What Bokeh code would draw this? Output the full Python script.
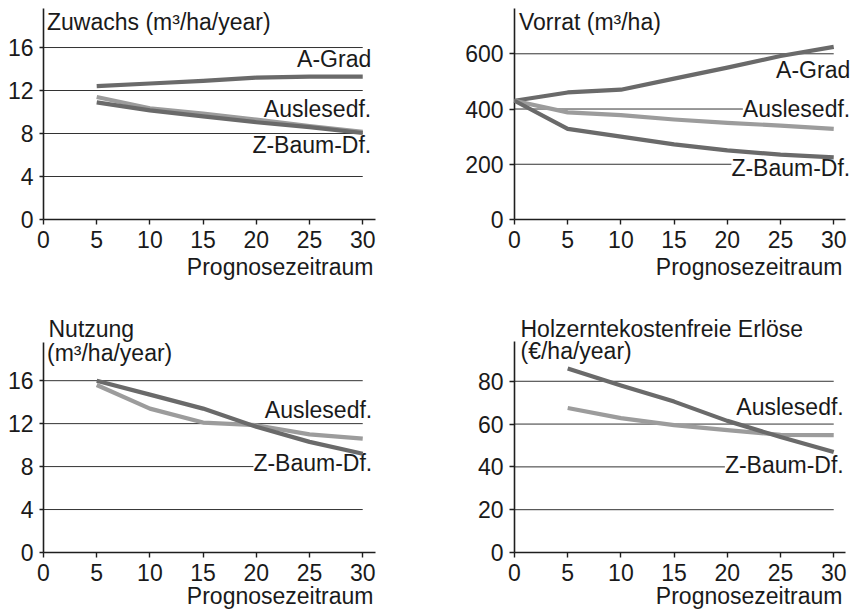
from bokeh.plotting import figure
from bokeh.models import Range1d, FixedTicker, Label, Title
from bokeh.layouts import column, row
from bokeh.embed import file_html
from bokeh.resources import INLINE

# ---------------- data ----------------
x_ticks = [0, 5, 10, 15, 20, 25, 30]
x_label = "Prognosezeitraum"

# Zuwachs (m3/ha/year)
zuw_years = [5, 10, 15, 20, 25, 30]
zuw_agrad = [12.4, 12.65, 12.9, 13.2, 13.3, 13.3]
zuw_ausl = [11.4, 10.35, 9.85, 9.3, 8.7, 8.15]
zuw_zbaum = [10.9, 10.15, 9.6, 9.05, 8.6, 8.05]
zuw_ticks = [0, 4, 8, 12, 16]

# Vorrat (m3/ha)
vor_years = [0, 5, 10, 15, 20, 25, 30]
vor_agrad = [430, 460, 470, 510, 550, 592, 625]
vor_ausl = [430, 388, 378, 362, 350, 340, 328]
vor_zbaum = [430, 328, 300, 272, 250, 235, 225]
vor_ticks = [0, 200, 400, 600]

# Nutzung (m3/ha/year)
nut_years = [5, 10, 15, 20, 25, 30]
nut_zbaum = [16.0, 14.7, 13.4, 11.7, 10.3, 9.2]
nut_ausl = [15.6, 13.4, 12.1, 11.85, 11.0, 10.6]
nut_ticks = [0, 4, 8, 12, 16]

# Holzerntekostenfreie Erloese (EUR/ha/year)
erl_years = [5, 10, 15, 20, 25, 30]
erl_zbaum = [86.0, 78.0, 70.5, 61.5, 54.0, 47.0]
erl_ausl = [67.5, 62.8, 59.5, 57.2, 55.0, 54.8]
erl_ticks = [0, 20, 40, 60, 80]

# ---------------- style ----------------
FONT = "Liberation Sans"
FS = "23px"
TXT = "#1a1a1a"
DARK = "#6a6a6a"
LIGHT = "#9c9c9c"
AXC = "#1e1e1e"
GRIDC = "#333333"
BASE_SHIFT = 8.5   # baseline correction for Label text


def make_panel(width, height, borders, x_end, x_axis_end, y_end, y_axis_end,
               yticks, series, labels, titles, xlab_offset, xlab_standoff,
               ytick_out):
    bl, br, bt, bb = borders
    p = figure(width=width, height=height,
               x_range=Range1d(0, x_end), y_range=Range1d(0, y_end),
               output_backend="svg", toolbar_location=None,
               min_border_left=bl, min_border_right=br,
               min_border_top=bt, min_border_bottom=bb)
    p.outline_line_color = None
    p.background_fill_color = "white"
    p.border_fill_color = "white"
    p.xgrid.visible = False
    p.ygrid.visible = False

    # horizontal reference lines from the axis to the last period
    gl = [t for t in yticks if t != 0]
    p.segment(x0=[x_ticks[0]] * len(gl), y0=gl,
              x1=[x_ticks[-1]] * len(gl), y1=gl,
              line_color=GRIDC, line_width=1)

    for xs, ys, col in series:
        r = p.line(xs, ys, line_color=col, line_width=4.2,
                   line_join="round", line_cap="butt")
        r.level = "overlay"

    for ax in (p.xaxis[0], p.yaxis[0]):
        ax.axis_line_color = AXC
        ax.axis_line_width = 1.6
        ax.major_tick_line_color = AXC
        ax.major_tick_line_width = 1.4
        ax.major_tick_in = 0
        ax.minor_tick_line_color = None
        ax.major_label_text_font = FONT
        ax.major_label_text_font_size = FS
        ax.major_label_text_color = TXT
        ax.major_label_standoff = 6
    p.xaxis[0].major_tick_out = 5
    p.yaxis[0].major_tick_out = ytick_out
    p.xaxis[0].ticker = FixedTicker(ticks=x_ticks)
    p.yaxis[0].ticker = FixedTicker(ticks=yticks)
    p.xaxis[0].bounds = (0, x_axis_end)
    p.yaxis[0].bounds = (0, y_axis_end)

    p.add_layout(Title(text=x_label, align="right", offset=xlab_offset,
                       standoff=xlab_standoff, vertical_align="top",
                       text_font=FONT, text_font_size=FS,
                       text_font_style="normal", text_color=TXT), "below")

    for text, ypos, xoff, bg in labels:
        p.add_layout(Label(x=x_ticks[-1], y=ypos, x_offset=xoff,
                           y_offset=BASE_SHIFT,
                           text=text, text_align="right",
                           text_baseline="alphabetic",
                           text_font=FONT, text_font_size=FS,
                           text_color=TXT,
                           background_fill_color="white" if bg else None))

    for text, xoff, yoff in titles:
        p.add_layout(Label(x=0, y=0, x_offset=xoff,
                           y_offset=yoff + BASE_SHIFT,
                           text=text, text_align="left",
                           text_baseline="alphabetic",
                           text_font=FONT, text_font_size=FS,
                           text_color=TXT))
    return p


p1 = make_panel(427, 300, (43, 52, 8, 81), 31.2, 31.2, 19.63, 19.63,
                zuw_ticks,
                [(zuw_years, zuw_agrad, DARK),
                 (zuw_years, zuw_ausl, LIGHT),
                 (zuw_years, zuw_zbaum, DARK)],
                [("A-Grad", 14.17, 8.5, False),
                 ("Auslesedf.", 9.52, 8.5, False),
                 ("Z-Baum-Df.", 6.11, 8.5, False)],
                [("Zuwachs (m\u00b3/ha/year)", 3.5, 189)],
                2, 7, 4)

p2 = make_panel(426, 300, (87, 2, 8, 81), 31.67, 31.1, 764, 764,
                vor_ticks,
                [(vor_years, vor_agrad, DARK),
                 (vor_years, vor_ausl, LIGHT),
                 (vor_years, vor_zbaum, DARK)],
                [("A-Grad", 509, 16.5, False),
                 ("Auslesedf.", 368, 16.5, True),
                 ("Z-Baum-Df.", 157, 16.5, True)],
                [("Vorrat (m\u00b3/ha)", 4.5, 189)],
                9, 7, 5)

p3 = make_panel(427, 313, (43, 52, 5, 61), 31.2, 31.2, 23.0, 19.6,
                nut_ticks,
                [(nut_years, nut_ausl, LIGHT),
                 (nut_years, nut_zbaum, DARK)],
                [("Auslesedf.", 12.48, 9.5, True),
                 ("Z-Baum-Df.", 7.5, 9.5, True)],
                [("Nutzung", 5, 215),
                 ("(m\u00b3/ha/year)", 3.5, 191)],
                2, -2, 4)

p4 = make_panel(426, 313, (87, 2, 5, 61), 31.67, 31.1, 115.4, 98.4,
                erl_ticks,
                [(erl_years, erl_ausl, LIGHT),
                 (erl_years, erl_zbaum, DARK)],
                [("Auslesedf.", 64.1, 10, False),
                 ("Z-Baum-Df.", 36.9, 10, True)],
                [("Holzerntekostenfreie Erl\u00f6se", 6, 215),
                 ("(\u20ac/ha/year)", 6, 193)],
                9, -2, 5)

layout = column(row(p1, p2), row(p3, p4))

open("out.html", "w").write(file_html(layout, INLINE))
